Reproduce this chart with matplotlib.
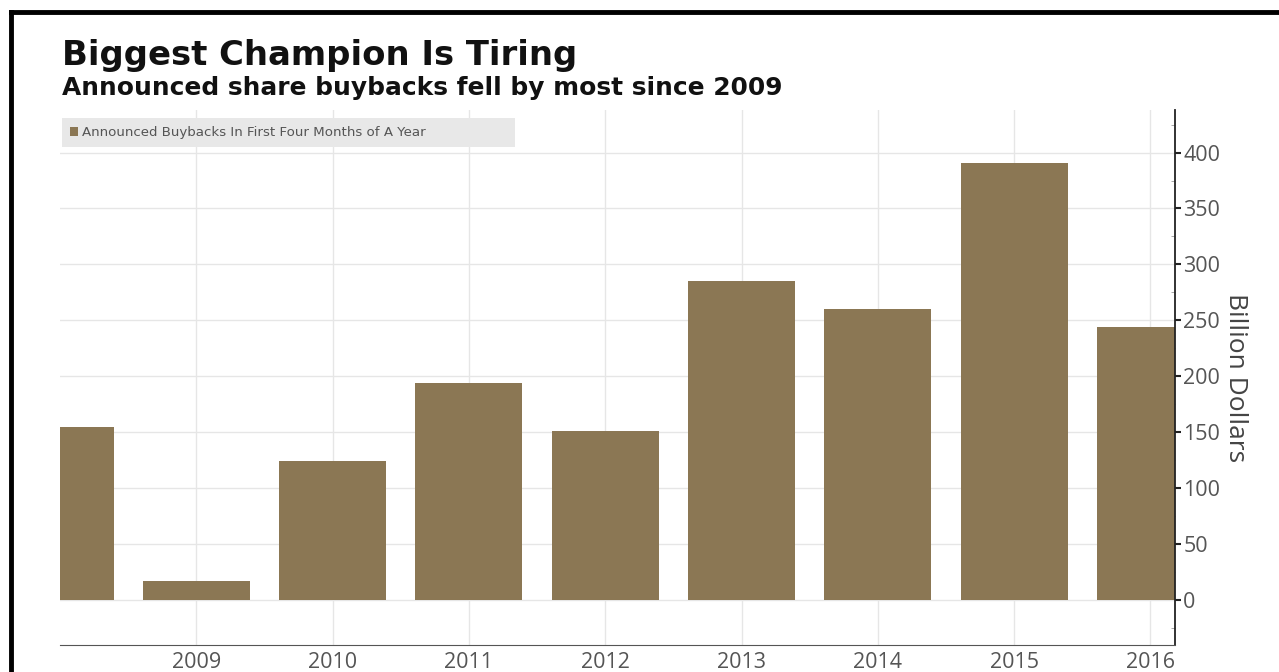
import matplotlib
matplotlib.use("Agg")
import matplotlib.pyplot as plt
from matplotlib.lines import Line2D
from matplotlib.ticker import MultipleLocator

# announced buybacks, first four months of each year (billion $)
years = [2008, 2009, 2010, 2011, 2012, 2013, 2014, 2015, 2016]
buybacks = [155, 17, 124, 194, 151, 285, 260, 391, 244]
year_labels = ["2009", "2010", "2011", "2012", "2013", "2014", "2015", "2016"]
bar_color = "#8b7754"

fig = plt.figure(figsize=(12.79, 6.72), dpi=100)
ax = fig.add_axes([60/1279, 27/672, (1175-60)/1279, (645-110)/672])

ax.bar(years, buybacks, width=0.785, color=bar_color, zorder=2,
       label="Announced Buybacks In First Four Months of A Year")

ax.set_xlim(2008.0, 2016.18)
ax.set_ylim(-40, 438)

ax.set_xticks(years[1:])
ax.set_xticklabels(year_labels)
ax.yaxis.tick_right()
ax.yaxis.set_label_position("right")
ax.yaxis.set_major_locator(MultipleLocator(50))
ax.yaxis.set_minor_locator(MultipleLocator(25))
ax.tick_params(axis="y", which="major", direction="out", length=4, width=1.5,
               colors="#222", labelcolor="#555", labelsize=15.5, pad=2)
ax.tick_params(axis="y", which="minor", direction="in", length=3, color="#999")
ax.tick_params(axis="x", length=0, labelcolor="#555", labelsize=15.5, pad=5)
for lab in ax.get_xticklabels() + ax.get_yticklabels():
    lab.set_family("Open Sans")

ax.set_yticks(range(0, 401, 50))
ax.set_ylabel("Billion Dollars", rotation=270, labelpad=20, fontsize=19,
              color="#444", family="Open Sans")

ax.grid(True, color="#e6e6e6", linewidth=1, zorder=0)
ax.set_axisbelow(True)
for s in ["left", "top"]:
    ax.spines[s].set_visible(False)
ax.spines["right"].set_color("#222")
ax.spines["right"].set_linewidth(1.3)
ax.spines["bottom"].set_color("#555")

leg = ax.legend(loc="upper left", mode="expand", frameon=True,
                bbox_to_anchor=(62/1279, 1-152/672, (515-62)/1279, 34/672),
                bbox_transform=fig.transFigure, borderaxespad=0, borderpad=0.6,
                handlelength=0.6, handleheight=0.6, handletextpad=0.3,
                prop={"size": 9.6}, fancybox=False)
leg.get_frame().set_facecolor("#e8e8e8")
leg.get_frame().set_edgecolor("none")
leg.get_frame().set_alpha(1)
for t in leg.get_texts():
    t.set_color("#555")

fig.text(62/1279, 1-65/672, "Biggest Champion Is Tiring", fontsize=24.4,
         fontweight="bold", color="#111", va="baseline")
fig.text(62/1279, 1-95/672, "Announced share buybacks fell by most since 2009",
         fontsize=17.9, fontweight="bold", color="#111", va="baseline")

# black frame at top and left
fig.add_artist(Line2D([11/1279, 1.01], [1-12/672, 1-12/672], color="black", linewidth=3.5))
fig.add_artist(Line2D([11/1279, 11/1279], [-0.01, 1-12/672], color="black", linewidth=3.5))

fig.savefig("out.png", dpi=100)
